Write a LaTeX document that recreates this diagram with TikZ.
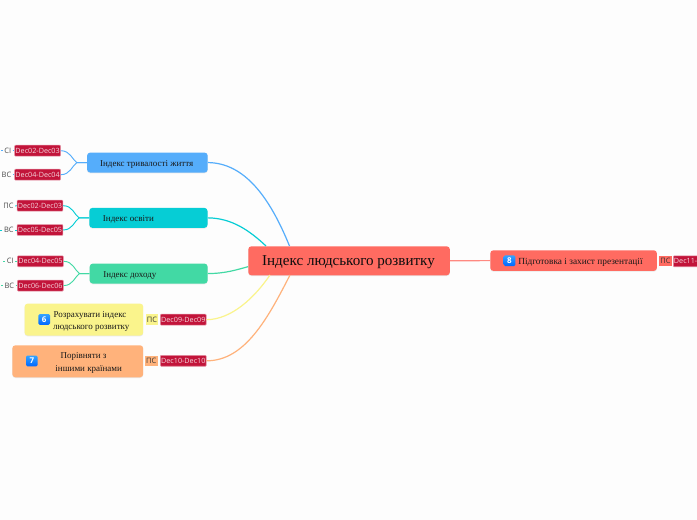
\documentclass[tikz,border=0pt]{standalone}
\usepackage{fontspec}
\setmainfont{Liberation Serif}
\newfontfamily\tagfont{Open Sans}
\usetikzlibrary{shadows}
\definecolor{bgc}{HTML}{FDFDFD}
\definecolor{cred}{HTML}{FF6B61}
\definecolor{cblue}{HTML}{55ADFB}
\definecolor{cteal}{HTML}{06CDD5}
\definecolor{cgreen}{HTML}{42D9A4}
\definecolor{cyel}{HTML}{FAF48C}
\definecolor{corg}{HTML}{FFB27B}
\definecolor{ctag}{HTML}{C2143A}
\tikzset{
 px/.style={x=0.75pt,y=-0.75pt},
 topic/.style={rounded corners=2.4pt,draw=none,inner sep=0pt,anchor=north west,drop shadow={shadow xshift=0pt,shadow yshift=-0.6pt,opacity=.16}},
 dtag/.style={fill=ctag,draw=ctag!45!white,line width=.4pt,rounded corners=.6pt,text=white!82!ctag,font=\tagfont\fontsize{5.4}{6}\selectfont,inner sep=0pt,minimum height=8.2pt,minimum width=34.4pt},
 who/.style={text=black!70,font=\tagfont\fontsize{5.6}{6}\selectfont,inner sep=0pt},
 whof/.style={inner sep=0pt,minimum width=9.6pt,minimum height=7.6pt,text=black!80,font=\tagfont\fontsize{5.6}{6}\selectfont},
 link/.style={line width=.9pt},
 sub/.style={line width=.7pt},
 ttl/.style={font=\fontsize{6.75}{9.2}\selectfont,text=black!90,align=center,inner sep=0pt},
 ico/.style={top color=cyan!55!blue!80!white,bottom color=blue!60!cyan,rounded corners=1pt,text=white,font=\tagfont\bfseries\fontsize{6}{6}\selectfont,inner sep=0pt,minimum width=8.7pt,minimum height=8pt},
 stub/.style={line width=.6pt}
}
\begin{document}
\begin{tikzpicture}[px]
\useasboundingbox[fill=bgc] (0,0) rectangle (697,520);
% centre
\node[topic,fill=cred,minimum width=151.2pt,minimum height=21.8pt] (main) at (248,246) {};
\node[font=\fontsize{11.3}{14}\selectfont,inner sep=0pt,text=black!95] (maint) at (348.5,262.3) {Індекс людського розвитку};
\coordinate (c1) at (289.5,246);
\coordinate (c2) at (266,246);
\coordinate (c3) at (248,266.7);
\coordinate (c4) at (270,275);
\coordinate (c5) at (290,275);
% right
\node[topic,fill=cred,minimum width=125pt,minimum height=15.5pt] (pr) at (490,250) {};
\draw[link,cred!80!white] (main.east) -- (pr.west);
\node[ico] (i8) at (509.5,260.7) {8};
\node[ttl,font=\fontsize{7}{9}\selectfont,anchor=west] (t8) at (518,262) {Підготовка і захист презентації};
\node[whof,fill=cred] (ps8) at (665.5,261.3) {ПС};
\node[dtag,minimum width=18.5pt] (d8) at (685.6,261.3) {Dec11-};
% branches
\node[topic,fill=cblue,minimum width=90.5pt,minimum height=15pt] (b1) at (86.8,152.3) {};
\node[ttl] (t1) at (146.7,164) {Індекс тривалості життя};
\node[topic,fill=cteal,minimum width=88.7pt,minimum height=15pt] (b2) at (89,207.6) {};
\node[ttl,anchor=west] (t2) at (102.7,219.5) {Індекс освіти};
\node[topic,fill=cgreen,minimum width=88.5pt,minimum height=15pt] (b3) at (89.4,263.3) {};
\node[ttl,anchor=west] (t3) at (103,275.5) {Індекс доходу};
\node[topic,fill=cyel,minimum width=89pt,minimum height=24pt] (b4) at (24.3,303.3) {};
\node[ico] (i6) at (44.2,319.5) {6};
\node[ttl] (t4) at (91.3,321.5) {Розрахувати індекс\hspace*{2pt}\\людського розвитку};
\node[topic,fill=corg,minimum width=98.2pt,minimum height=24pt] (b5) at (12,345) {};
\node[ico] (i7) at (31.8,361) {7};
\node[ttl] (t5) at (88.7,363) {Порівняти з\hspace*{7.8pt}\\іншими країнами};
% tags
\node[whof,fill=cyel] (ps6) at (152,319.5) {ПС};
\node[dtag] (d6) at (183.3,319.7) {Dec09-Dec09};
\node[whof,fill=corg] (ps7) at (151.3,360.8) {ПС};
\node[dtag] (d7) at (183.3,360.8) {Dec10-Dec10};
\node[dtag] (a1) at (37.6,150.7) {Dec02-Dec03};
\node[dtag] (a2) at (37.6,174.7) {Dec04-Dec04};
\node[dtag] (a3) at (40,205.7) {Dec02-Dec03};
\node[dtag] (a4) at (40,230) {Dec05-Dec05};
\node[dtag] (a5) at (40.4,261.3) {Dec04-Dec05};
\node[dtag] (a6) at (40.4,285.6) {Dec06-Dec06};
\node[who] (w1) at (7.7,150.7) {СІ};
\node[who] (w2) at (6.5,174.7) {ВС};
\node[who] (w3) at (8.5,206) {ПС};
\node[who] (w4) at (8.8,230) {ВС};
\node[who] (w5) at (10.2,261.3) {СІ};
\node[who] (w6) at (9.3,285.6) {ВС};
% stubs
\foreach \w/\a/\c in {w1/a1/cblue,w2/a2/cblue,w3/a3/cteal,w4/a4/cteal,w5/a5/cgreen,w6/a6/cgreen}{
 \draw[stub,\c] ([xshift=1pt]\w.east) -- (\a.west);
}
\foreach \w/\c in {w1/cblue,w4/cteal,w5/cgreen,w6/cgreen}{
 \draw[stub,\c] ([xshift=-1pt]\w.west) -- ++(-1.5pt,0);
}
% connectors to the centre
\draw[link,cblue] (b1.east) .. controls (245,163) and (270,198) .. (c1);
\draw[link,cteal] (b2.east) .. controls (232,218) and (250,231) .. (c2);
\draw[link,cgreen] (b3.east) .. controls (225,273.5) and (236,270) .. (c3);
\draw[link,cyel] (d6.east) .. controls (232,319.5) and (255,297) .. (c4);
\draw[link,corg] (d7.east) .. controls (245,361) and (268,318) .. (c5);
% sub connectors
\foreach \a/\b/\c/\s in {a1/b1/cblue/1,a2/b1/cblue/-1,a3/b2/cteal/1,a4/b2/cteal/-1,a5/b3/cgreen/1,a6/b3/cgreen/-1}{
 \draw[sub,\c] (\a.east) .. controls ([xshift=7pt]\a.east) and ([xshift=-11pt,yshift=\s*2.5pt]\b.west) .. ([xshift=-7.5pt]\b.west) -- (\b.west);
}
\end{tikzpicture}
\end{document}
